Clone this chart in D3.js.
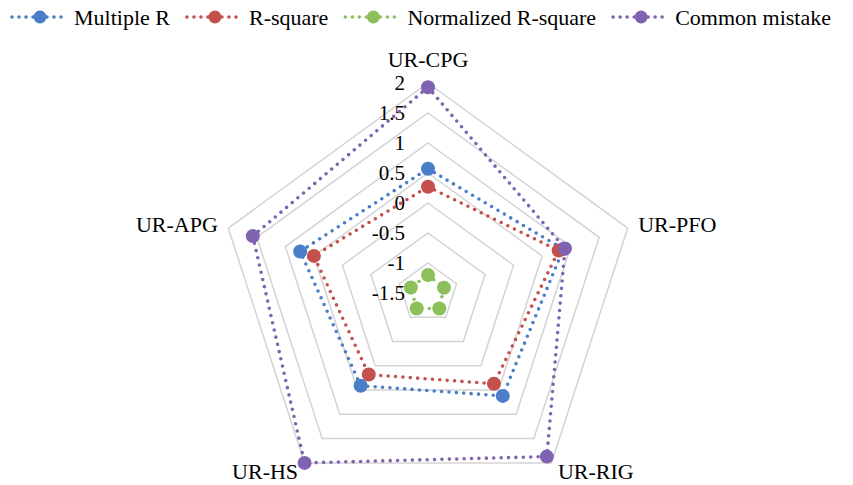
<!DOCTYPE html>
<html>
<head>
<meta charset="utf-8">
<script src="https://cdn.jsdelivr.net/npm/d3@7"></script>
</head>
<body style="margin:0; background:#fff">
<svg id="main" width="853" height="485"></svg>
<script>
const width = 853;
const height = 485;
const serif = '"Liberation Serif"';

const axes = ['UR-CPG', 'UR-PFO', 'UR-RIG', 'UR-HS', 'UR-APG'];
const multipleR = [0.57, 0.87, 0.62, 0.41, 0.74];
const rSquare = [0.27, 0.79, 0.37, 0.18, 0.50];
const normalizedRSquare = [-1.2, -1.22, -1.18, -1.18, -1.2];
const commonMistake = [1.93, 0.9, 1.87, 2.0, 1.57];
const tickValues = [-1.5, -1, -0.5, 0, 0.5, 1, 1.5, 2];
const tickLabels = ['-1.5', '-1', '-0.5', '0', '0.5', '1', '1.5', '2'];

const series = [
    { name: 'Multiple R', values: multipleR, color: '#4a7ec9' },
    { name: 'R-square', values: rSquare, color: '#c4504d' },
    { name: 'Normalized R-square', values: normalizedRSquare, color: '#8dbf5a' },
    { name: 'Common mistake', values: commonMistake, color: '#7f62b0' }
];

const cx = 428;
const cy = 293;
const outer = 210;

const svg = d3.select('#main');
svg.append('rect').attr('width', width).attr('height', height).attr('fill', '#fff');

const rScale = d3.scaleLinear().domain([-1.5, 2]).range([0, outer]);
const angle = i => (i * 2 * Math.PI) / axes.length;

const g = svg.append('g').attr('transform', `translate(${cx}, ${cy})`);

// grid pentagons
const ring = d3
    .lineRadial()
    .angle((d, i) => angle(i))
    .radius(d => rScale(d))
    .curve(d3.curveLinearClosed);

g.selectAll('.grid')
    .data(tickValues.filter(t => t > -1.5))
    .join('path')
    .attr('class', 'grid')
    .attr('d', t => ring(axes.map(() => t)))
    .attr('fill', 'none')
    .attr('stroke', '#d3d3d3')
    .attr('stroke-width', 1.5);

// tick labels along top axis
g.selectAll('.tick-label')
    .data(tickValues)
    .join('text')
    .attr('class', 'tick-label')
    .style('font-family', serif)
    .attr('fill', '#000')
    .attr('x', -23)
    .attr('y', d => -rScale(d))
    .attr('dy', '0.35em')
    .attr('text-anchor', 'end')
    .attr('font-size', 21)
    .text((d, i) => tickLabels[i]);

// axis labels
g.selectAll('.axis-label')
    .data(axes)
    .join('text')
    .attr('class', 'axis-label')
    .style('font-family', serif)
    .attr('fill', '#000')
    .attr('font-size', 22)
    .attr('x', (d, i) => Math.sin(angle(i)) * 221)
    .attr('y', (d, i) => (i === 0 ? -226 : -Math.cos(angle(i)) * 221))
    .attr('dy', (d, i) => (i === 0 ? '0' : '0.35em'))
    .attr('text-anchor', (d, i) => {
        const s = Math.sin(angle(i));
        return Math.abs(s) < 0.01 ? 'middle' : s > 0 ? 'start' : 'end';
    })
    .text(d => d);

// series
series.forEach(s => {
    g.append('path')
        .attr('d', ring(s.values))
        .attr('fill', 'none')
        .attr('stroke', s.color)
        .attr('stroke-width', 3.6)
        .attr('stroke-linecap', 'round')
        .attr('stroke-dasharray', '0 7.4');
    g.selectAll(null)
        .data(s.values)
        .join('circle')
        .attr('cx', (d, i) => Math.sin(angle(i)) * rScale(d))
        .attr('cy', (d, i) => -Math.cos(angle(i)) * rScale(d))
        .attr('r', 7)
        .attr('fill', s.color);
});

// legend
let lx = 12;
const ly = 17;
series.forEach(s => {
    const item = svg.append('g').attr('transform', `translate(${lx}, ${ly})`);
    item.append('line')
        .attr('x1', 0)
        .attr('x2', 56)
        .attr('stroke', s.color)
        .attr('stroke-width', 3.6)
        .attr('stroke-linecap', 'round')
        .attr('stroke-dasharray', '0 7');
    item.append('circle').attr('cx', 28).attr('r', 6.5).attr('fill', s.color);
    const t = item.append('text')
        .style('font-family', serif)
        .attr('fill', '#000')
        .attr('x', 62)
        .attr('y', 8)
        .attr('font-size', 22)
        .text(s.name);
    lx += 62 + t.node().getComputedTextLength() + 17;
});
</script>
</body>
</html>
